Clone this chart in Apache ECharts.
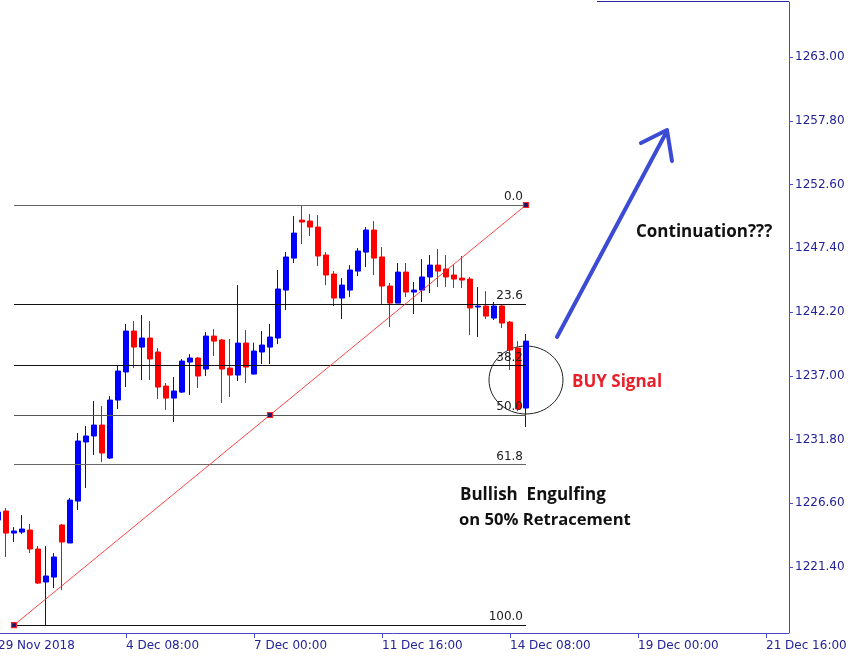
<!DOCTYPE html>
<html>
<head>
<meta charset="utf-8">
<script src="https://cdn.jsdelivr.net/npm/echarts@6/dist/echarts.min.js"></script>
<style>
html,body{margin:0;padding:0;background:#fff;}
#chart{width:860px;height:657px;}
</style>
</head>
<body>
<div id="chart"></div>
<script>
// ---- H4 candles (bar -1 .. bar 65), XAUUSD, 29 Nov - 14 Dec 2018 ----
const opens  = [1225.23,1225.97,1224.17,1224.25,1224.42,1222.87,1220.18,1220.58,1224.83,1223.36,1226.78,1231.60,1232.09,1232.98,1230.29,1235.02,1237.31,1240.65,1239.34,1240.08,1238.94,1236.16,1235.18,1235.67,1238.12,1238.45,1237.55,1240.24,1239.92,1237.63,1237.06,1239.67,1237.14,1238.94,1239.34,1240.08,1243.99,1246.60,1249.70,1249.62,1249.13,1246.85,1245.30,1243.34,1243.99,1245.54,1247.09,1248.89,1246.69,1244.32,1242.93,1245.46,1243.83,1243.99,1245.06,1246.03,1245.71,1245.22,1244.97,1244.89,1242.61,1242.69,1241.71,1242.69,1241.38,1239.26,1234.37];
const closes = [1225.89,1224.17,1224.34,1224.50,1222.87,1220.09,1220.67,1222.22,1223.44,1226.86,1231.68,1232.09,1232.98,1230.70,1235.02,1237.39,1240.65,1239.34,1240.08,1238.37,1236.08,1235.18,1235.76,1238.20,1238.45,1236.98,1240.24,1239.83,1237.55,1237.06,1239.67,1237.71,1239.02,1239.51,1240.16,1244.08,1246.69,1248.64,1249.54,1249.13,1246.77,1245.22,1243.34,1244.40,1245.63,1247.18,1248.89,1246.60,1244.32,1242.93,1245.46,1243.83,1243.99,1245.06,1246.03,1245.54,1245.06,1244.89,1244.81,1242.53,1242.69,1241.87,1242.69,1241.30,1239.10,1234.29,1239.83];
const lows   = [1225.07,1222.22,1223.44,1224.09,1222.54,1220.01,1216.67,1219.69,1219.52,1223.36,1226.05,1227.84,1230.54,1229.96,1230.21,1234.29,1236.08,1237.63,1236.65,1236.65,1235.10,1234.21,1233.23,1235.59,1235.43,1236.00,1236.98,1238.61,1234.78,1235.27,1236.57,1236.41,1237.10,1237.96,1237.96,1239.59,1242.36,1246.20,1247.75,1248.40,1245.95,1244.40,1242.69,1241.63,1243.42,1245.14,1245.87,1245.22,1242.85,1240.98,1242.93,1243.42,1242.04,1243.02,1243.75,1244.24,1244.24,1244.16,1244.16,1240.32,1240.16,1241.63,1241.55,1240.90,1237.47,1234.12,1232.82];
const highs  = [1226.05,1226.21,1224.66,1225.64,1224.91,1223.11,1223.11,1222.54,1224.91,1227.03,1232.33,1232.90,1234.94,1234.53,1235.35,1237.80,1241.22,1241.47,1241.96,1241.47,1239.26,1236.41,1236.90,1238.37,1238.77,1238.53,1240.57,1240.81,1240.00,1240.00,1244.40,1240.73,1239.70,1240.65,1241.22,1245.63,1247.09,1250.03,1250.93,1250.19,1250.11,1247.09,1245.54,1244.97,1246.03,1247.42,1249.13,1249.62,1247.50,1244.57,1246.20,1246.20,1244.65,1246.52,1246.85,1247.34,1246.85,1246.03,1246.77,1245.06,1244.24,1243.91,1243.02,1242.77,1241.47,1239.83,1240.41];

// time axis: H4 bars from 29 Nov 2018 16:00, weekends skipped (99 slots incl. empty future)
const firstBarUTC = Date.UTC(2018, 10, 29, 16);
const slotCount = 99;
const monthNames = ['Jan','Feb','Mar','Apr','May','Jun','Jul','Aug','Sep','Oct','Nov','Dec'];
const categories = [];
(function(){
  let t = firstBarUTC;
  for (let i = 0; i < slotCount; i++) {
    const d = new Date(t);
    const hh = String(d.getUTCHours()).padStart(2,'0');
    categories.push(d.getUTCDate() + ' ' + monthNames[d.getUTCMonth()] + ' ' + hh + ':00');
    t += 4 * 3600 * 1000;
    const nd = new Date(t);
    if (nd.getUTCDay() === 6) t += 48 * 3600 * 1000;
  }
})();

// x tick labels
const tickCategories = ['29 Nov 16:00','4 Dec 08:00','7 Dec 00:00','11 Dec 16:00','14 Dec 08:00','19 Dec 00:00','21 Dec 16:00'];
const tickLabels     = ['29 Nov 2018','4 Dec 08:00','7 Dec 00:00','11 Dec 16:00','14 Dec 08:00','19 Dec 00:00','21 Dec 16:00'];
// y tick labels
const yTicks = [1221.40,1226.60,1231.80,1237.00,1242.20,1247.40,1252.60,1257.80,1263.00];
const yMin = 1216.02, yMax = 1267.49;

// Fibonacci retracement
const fibLabels = ['0.0','23.6','38.2','50.0','61.8','100.0'];
const fibPrices = [1250.93,1242.85,1237.84,1233.80,1229.76,1216.67];
const fibColors = ['#666','#111','#111','#555','#666','#111'];
const fibFrom = '30 Nov 00:00', fibTo = '14 Dec 16:00';
const trendPoints = [['30 Nov 00:00',1216.67],['7 Dec 08:00',1233.80],['14 Dec 16:00',1250.93]];

const chart = echarts.init(document.getElementById('chart'), null, {renderer:'canvas'});
const navy = '#23239a';
const axisBlue = '#4a4ac4';
const font = 'DejaVu Sans';

const fibLines = fibLabels.map((lab, i) => [
  {name: lab, coord: [fibFrom, fibPrices[i]], lineStyle: {color: fibColors[i], width: 1, type: 'solid'}},
  {name: lab, coord: [fibTo, fibPrices[i]], lineStyle: {color: fibColors[i], width: 1, type: 'solid'}}
]);
const trendLine = [
  {name: '', coord: trendPoints[0], lineStyle: {color: '#ff3030', width: 1, type: 'solid', opacity: 0.9}, label: {show: false}},
  {name: '', coord: trendPoints[2], lineStyle: {color: '#ff3030', width: 1, type: 'solid', opacity: 0.9}, label: {show: false}}
];

chart.setOption({
  animation: false,
  backgroundColor: '#ffffff',
  grid: {left: -6, width: 792, top: 2, bottom: 24, containLabel: false, outerBoundsMode: 'none'},
  xAxis: {
    type: 'category',
    data: categories,
    boundaryGap: true,
    axisLine: {show: true, lineStyle: {color: axisBlue, width: 1}},
    axisTick: {show: true, alignWithLabel: true, length: 5, lineStyle: {color: axisBlue},
      interval: (idx, val) => idx > 0 && tickCategories.indexOf(val) >= 0},
    axisLabel: {
      show: true, align: 'left', margin: 7, color: navy, fontFamily: font, fontSize: 12,
      interval: (idx, val) => tickCategories.indexOf(val) >= 0,
      formatter: (val) => { const k = tickCategories.indexOf(val); return k >= 0 ? tickLabels[k] : ''; },
      showMinLabel: true, showMaxLabel: true, hideOverlap: false
    },
    splitLine: {show: false}
  },
  yAxis: {
    type: 'value',
    position: 'right',
    offset: 3,
    min: yMin, max: yMax,
    scale: true,
    axisLine: {show: true, lineStyle: {color: axisBlue, width: 1}},
    axisTick: {show: true, length: 4, inside: false, lineStyle: {color: axisBlue}, customValues: yTicks},
    axisLabel: {show: true, margin: 6, color: navy, fontFamily: font, fontSize: 12, customValues: yTicks,
      formatter: v => Number(v).toFixed(2)},
    splitLine: {show: false}
  },
  series: [{
    type: 'candlestick',
    data: opens.map((o, i) => [o, closes[i], lows[i], highs[i]]),
    barWidth: 5,
    itemStyle: {color: '#0000ff', color0: '#ff0000', borderColor: '#0000ff', borderColor0: '#ff0000', borderWidth: 1},
    markLine: {
      silent: true,
      symbol: ['none', 'none'],
      animation: false,
      label: {show: true, position: 'insideEndTop', distance: [0, 2], padding: [0, 3, 0, 0], formatter: p => p.name,
        color: '#222', fontFamily: font, fontSize: 12},
      emphasis: {disabled: true},
      data: fibLines.concat([trendLine])
    },
    markPoint: {
      silent: true,
      animation: false,
      symbol: 'rect',
      symbolSize: 5,
      label: {show: false},
      itemStyle: {color: '#1a1a70', borderColor: '#ff2020', borderWidth: 1.2},
      data: trendPoints.map(p => ({coord: p}))
    }
  }],
  graphic: [
    {type: 'line', shape: {x1: 597, y1: 1.5, x2: 789, y2: 1.5}, style: {stroke: '#2a2aa0', lineWidth: 1}},
    {type: 'line', shape: {x1: 786, y1: 633.5, x2: 789, y2: 633.5}, style: {stroke: axisBlue, lineWidth: 1}},
    {type: 'ellipse', shape: {cx: 526, cy: 380, rx: 37, ry: 34}, style: {fill: 'none', stroke: '#222', lineWidth: 1}},
    {type: 'polyline', shape: {points: [[557, 337], [667, 131]]}, style: {stroke: '#3b4bd4', lineWidth: 4, lineCap: 'round', fill: 'none'}},
    {type: 'polyline', shape: {points: [[641, 143], [667, 130], [672, 161]]}, style: {stroke: '#3b4bd4', lineWidth: 4, lineCap: 'round', lineJoin: 'round', fill: 'none'}},
    {type: 'text', x: 572, y: 382, style: {text: 'BUY Signal', fill: '#e8202c', font: 'bold 17px "Open Sans"', textVerticalAlign: 'middle'}},
    {type: 'text', x: 636, y: 232, style: {text: 'Continuation???', fill: '#111', font: 'bold 17px "Open Sans"', textVerticalAlign: 'middle'}},
    {type: 'text', x: 460, y: 495, style: {text: 'Bullish  Engulfing', fill: '#111', font: 'bold 17px "Open Sans"', textVerticalAlign: 'middle'}},
    {type: 'text', x: 459, y: 520, style: {text: 'on 50% Retracement', fill: '#111', font: 'bold 16.6px "Open Sans"', textVerticalAlign: 'middle'}}
  ]
});
</script>
</body>
</html>
